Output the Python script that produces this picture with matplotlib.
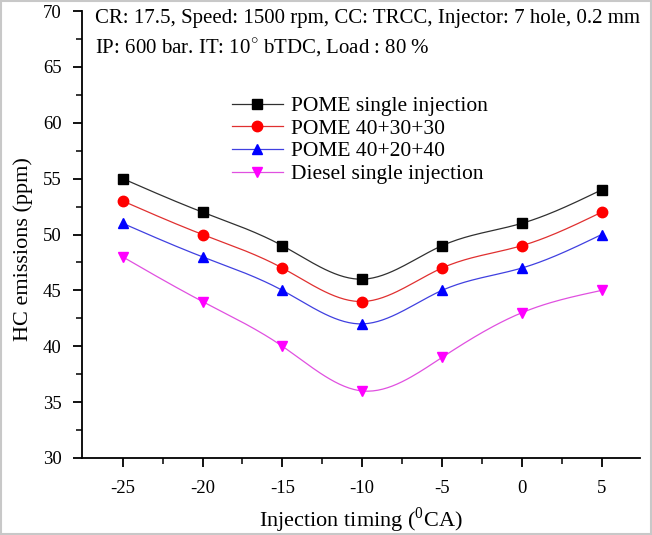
import numpy as np
import matplotlib
matplotlib.use('Agg')
import matplotlib.pyplot as plt
from matplotlib.patches import Rectangle

plt.rcParams['font.family'] = ['Liberation Serif', 'DejaVu Serif']
plt.rcParams['mathtext.fontset'] = 'custom'
plt.rcParams['mathtext.rm'] = 'Liberation Serif'
plt.rcParams['axes.unicode_minus'] = False

# データ
timing = [-25, -20, -15, -10, -5, 0, 5]
pome_single = [55, 52, 49, 46, 49, 51, 54]
pome_403030 = [53, 50, 47, 44, 47, 49, 52]
pome_402040 = [51, 48, 45, 42, 45, 47, 50]
diesel_single = [48, 44, 40, 36, 39, 43, 45]
labels = ['POME single injection', 'POME 40+30+30', 'POME 40+20+40', 'Diesel single injection']


def smooth(x, y, n=200):
    # natural cubic spline through the points (line drawing only)
    x = np.asarray(x, float)
    y = np.asarray(y, float)
    k = len(x)
    h = np.diff(x)
    A = np.zeros((k, k))
    b = np.zeros(k)
    A[0, 0] = A[-1, -1] = 1
    for i in range(1, k - 1):
        A[i, i - 1] = h[i - 1]
        A[i, i] = 2 * (h[i - 1] + h[i])
        A[i, i + 1] = h[i]
        b[i] = 6 * ((y[i + 1] - y[i]) / h[i] - (y[i] - y[i - 1]) / h[i - 1])
    M = np.linalg.solve(A, b)
    xs = np.linspace(x[0], x[-1], n)
    idx = np.clip(np.searchsorted(x, xs) - 1, 0, k - 2)
    x0, x1 = x[idx], x[idx + 1]
    hh = x1 - x0
    t0 = x1 - xs
    t1 = xs - x0
    ys = (M[idx] * t0 ** 3 + M[idx + 1] * t1 ** 3) / (6 * hh) \
        + (y[idx] / hh - M[idx] * hh / 6) * t0 \
        + (y[idx + 1] / hh - M[idx + 1] * hh / 6) * t1
    return xs, ys


fig = plt.figure(figsize=(6.52, 5.35), dpi=100)
ax = fig.add_axes([82 / 652, 1 - 458 / 535, 558 / 652, 447 / 535])

series = [pome_single, pome_403030, pome_402040, diesel_single]
line_colors = ['#303030', '#e03030', '#4040e0', '#e050e0']
mk_colors = ['black', 'red', 'blue', 'magenta']
markers = ['s', 'o', '^', 'v']
for ys, lc, mc, m, lab in zip(series, line_colors, mk_colors, markers, labels):
    sx, sy = smooth(timing, ys)
    ax.plot(sx, sy, color=lc, lw=0.9)
    ax.plot(timing, ys, linestyle='none', marker=m, color=mc, ms=7.5)
    ax.plot([], [], color=lc, lw=0.9, marker=m, mfc=mc, mec=mc, ms=7.5, label=lab)

ax.set_xlim(-27.55, 7.4)
ax.set_ylim(30, 70)
ax.set_xticks(timing)
ax.set_xticks(np.arange(-22.5, 7.5, 5), minor=True)
ax.set_yticks(np.arange(30, 71, 5))
ax.set_yticks(np.arange(32.5, 70, 5), minor=True)
ax.spines['top'].set_visible(False)
ax.spines['right'].set_visible(False)
ax.spines['left'].set_linewidth(1.3)
ax.spines['bottom'].set_linewidth(1.3)
ax.tick_params(which='major', direction='out', length=6.5, width=1.3, labelsize=13.5)
ax.tick_params(which='minor', direction='out', length=4, width=1.1)
ax.tick_params(axis='x', pad=9)
ax.tick_params(axis='y', pad=8)

ax.set_xlabel('Injection timing ($^0$CA)', fontsize=16)
ax.set_ylabel('HC emissions (ppm)', fontsize=16)
ax.xaxis.set_label_coords(0.5, -0.105)
ax.yaxis.set_label_coords(-0.087, 0.467)

fig.text(95 / 652, 1 - 18 / 535, 'CR: 17.5, Speed: 1500 rpm, CC: TRCC, Injector: 7 hole, 0.2 mm',
         fontsize=15, va='center')
fig.text(95 / 652, 1 - 48 / 535, 'IP: 600 bar. IT: 10$^{\\circ}$ bTDC, Load : 80 %',
         fontsize=15, va='center')

ax.legend(loc='upper left', bbox_to_anchor=(217 / 652, 1 - 81 / 535),
          bbox_transform=fig.transFigure, frameon=False, fontsize=15.5,
          handlelength=2.35, handletextpad=0.4, labelspacing=0.12, borderpad=0.2)

fig.patches.append(Rectangle((0.002, 0.002), 0.996, 0.996, transform=fig.transFigure,
                             fill=False, edgecolor='#c8c8c8', lw=1.5))

fig.savefig('out.png', dpi=100)
